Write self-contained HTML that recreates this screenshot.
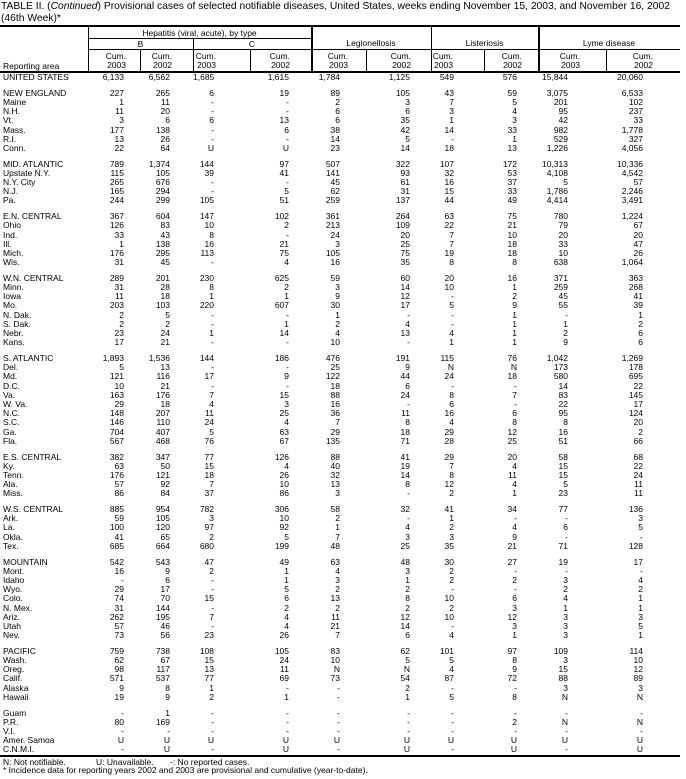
<!DOCTYPE html>
<html><head><meta charset="utf-8"><style>
*{margin:0;padding:0;box-sizing:border-box}
body{width:686px;height:779px;background:#fff;position:relative;overflow:hidden;font-family:"Liberation Sans",Arial,sans-serif;color:#000}
.t{position:absolute;white-space:nowrap;font-size:10.3px;line-height:12px;left:1px}
.h{position:absolute;font-size:8.5px;line-height:9px;white-space:nowrap}
.c{text-align:center}
.r{text-align:right}
.ln{position:absolute;background:#000}
table{position:absolute;left:0;top:73px;border-collapse:collapse;table-layout:fixed;width:680px;font-size:8.5px}
td{padding:0;height:9.2px;line-height:9.2px;text-align:right;white-space:nowrap;overflow:visible}
td:first-child{text-align:left;padding-left:3px}
tr.g td{height:6.5px;line-height:6.5px}
td:nth-child(2){padding-right:16px}td:nth-child(3){padding-right:23px}td:nth-child(4){padding-right:36px}td:nth-child(5){padding-right:22px}td:nth-child(6){padding-right:26px}td:nth-child(7){padding-right:21px}td:nth-child(8){padding-right:30px}td:nth-child(9){padding-right:21px}td:nth-child(10){padding-right:38px}td:nth-child(11){padding-right:37px}
</style></head><body>
<div class="t" style="top:1px">TABLE II. (<i>Continued</i>) Provisional cases of selected notifiable diseases, United States, weeks ending November 15, 2003, and November 16, 2002</div>
<div class="t" style="top:13px">(46th Week)*</div>
<div class="ln" style="left:0;top:25px;width:680px;height:2px"></div>
<div class="ln" style="left:0;top:71px;width:680px;height:2px"></div>
<div class="ln" style="left:88px;top:38px;width:223px;height:1px"></div>
<div class="ln" style="left:88px;top:49px;width:592px;height:1px"></div>
<div class="ln" style="left:88px;top:26px;width:1px;height:46px"></div>
<div class="ln" style="left:311px;top:26px;width:2px;height:46px"></div>
<div class="ln" style="left:431px;top:26px;width:1px;height:46px"></div>
<div class="ln" style="left:538px;top:26px;width:2px;height:46px"></div>
<div class="ln" style="left:193px;top:38px;width:1px;height:34px"></div>
<div class="ln" style="left:140px;top:49px;width:1px;height:23px"></div>
<div class="ln" style="left:250px;top:49px;width:1px;height:23px"></div>
<div class="ln" style="left:366px;top:49px;width:1px;height:23px"></div>
<div class="ln" style="left:484px;top:49px;width:1px;height:23px"></div>
<div class="ln" style="left:606px;top:49px;width:1px;height:23px"></div>
<div class="h c" style="left:88px;width:223px;top:29px">Hepatitis (viral, acute), by type</div>
<div class="h c" style="left:88px;width:105px;top:40px">B</div>
<div class="h c" style="left:193px;width:118px;top:40px">C</div>
<div class="h c" style="left:311px;width:120px;top:39px">Legionellosis</div>
<div class="h c" style="left:431px;width:107px;top:39px">Listeriosis</div>
<div class="h c" style="left:538px;width:142px;top:39px">Lyme disease</div>
<div class="h" style="left:3px;top:62px">Reporting area</div>
<div class="h r" style="left:88px;width:38px;top:52px">Cum.<br>2003</div>
<div class="h r" style="left:140px;width:32px;top:52px">Cum.<br>2002</div>
<div class="h r" style="left:193px;width:23px;top:52px">Cum.<br>2003</div>
<div class="h r" style="left:250px;width:40px;top:52px">Cum.<br>2002</div>
<div class="h r" style="left:311px;width:37px;top:52px">Cum.<br>2003</div>
<div class="h r" style="left:366px;width:45px;top:52px">Cum.<br>2002</div>
<div class="h r" style="left:431px;width:22px;top:52px">Cum.<br>2003</div>
<div class="h r" style="left:484px;width:38px;top:52px">Cum.<br>2002</div>
<div class="h r" style="left:538px;width:42px;top:52px">Cum.<br>2003</div>
<div class="h r" style="left:606px;width:47px;top:52px">Cum.<br>2002</div>
<table>
<colgroup><col style="width:88px"><col style="width:52px"><col style="width:53px"><col style="width:57px"><col style="width:61px"><col style="width:55px"><col style="width:65px"><col style="width:53px"><col style="width:54px"><col style="width:68px"><col style="width:74px"></colgroup>
<tr><td>UNITED STATES</td><td>6,133</td><td>6,562</td><td>1,685</td><td>1,615</td><td>1,784</td><td>1,125</td><td>549</td><td>576</td><td>15,844</td><td>20,060</td></tr>
<tr class="g"><td></td><td></td><td></td><td></td><td></td><td></td><td></td><td></td><td></td><td></td><td></td></tr>
<tr><td>NEW ENGLAND</td><td>227</td><td>265</td><td>6</td><td>19</td><td>89</td><td>105</td><td>43</td><td>59</td><td>3,075</td><td>6,533</td></tr>
<tr><td>Maine</td><td>1</td><td>11</td><td>-</td><td>-</td><td>2</td><td>3</td><td>7</td><td>5</td><td>201</td><td>102</td></tr>
<tr><td>N.H.</td><td>11</td><td>20</td><td>-</td><td>-</td><td>6</td><td>6</td><td>3</td><td>4</td><td>95</td><td>237</td></tr>
<tr><td>Vt.</td><td>3</td><td>6</td><td>6</td><td>13</td><td>6</td><td>35</td><td>1</td><td>3</td><td>42</td><td>33</td></tr>
<tr><td>Mass.</td><td>177</td><td>138</td><td>-</td><td>6</td><td>38</td><td>42</td><td>14</td><td>33</td><td>982</td><td>1,778</td></tr>
<tr><td>R.I.</td><td>13</td><td>26</td><td>-</td><td>-</td><td>14</td><td>5</td><td>-</td><td>1</td><td>529</td><td>327</td></tr>
<tr><td>Conn.</td><td>22</td><td>64</td><td>U</td><td>U</td><td>23</td><td>14</td><td>18</td><td>13</td><td>1,226</td><td>4,056</td></tr>
<tr class="g"><td></td><td></td><td></td><td></td><td></td><td></td><td></td><td></td><td></td><td></td><td></td></tr>
<tr><td>MID. ATLANTIC</td><td>789</td><td>1,374</td><td>144</td><td>97</td><td>507</td><td>322</td><td>107</td><td>172</td><td>10,313</td><td>10,336</td></tr>
<tr><td>Upstate N.Y.</td><td>115</td><td>105</td><td>39</td><td>41</td><td>141</td><td>93</td><td>32</td><td>53</td><td>4,108</td><td>4,542</td></tr>
<tr><td>N.Y. City</td><td>265</td><td>676</td><td>-</td><td>-</td><td>45</td><td>61</td><td>16</td><td>37</td><td>5</td><td>57</td></tr>
<tr><td>N.J.</td><td>165</td><td>294</td><td>-</td><td>5</td><td>62</td><td>31</td><td>15</td><td>33</td><td>1,786</td><td>2,246</td></tr>
<tr><td>Pa.</td><td>244</td><td>299</td><td>105</td><td>51</td><td>259</td><td>137</td><td>44</td><td>49</td><td>4,414</td><td>3,491</td></tr>
<tr class="g"><td></td><td></td><td></td><td></td><td></td><td></td><td></td><td></td><td></td><td></td><td></td></tr>
<tr><td>E.N. CENTRAL</td><td>367</td><td>604</td><td>147</td><td>102</td><td>361</td><td>264</td><td>63</td><td>75</td><td>780</td><td>1,224</td></tr>
<tr><td>Ohio</td><td>126</td><td>83</td><td>10</td><td>2</td><td>213</td><td>109</td><td>22</td><td>21</td><td>79</td><td>67</td></tr>
<tr><td>Ind.</td><td>33</td><td>43</td><td>8</td><td>-</td><td>24</td><td>20</td><td>7</td><td>10</td><td>20</td><td>20</td></tr>
<tr><td>Ill.</td><td>1</td><td>138</td><td>16</td><td>21</td><td>3</td><td>25</td><td>7</td><td>18</td><td>33</td><td>47</td></tr>
<tr><td>Mich.</td><td>176</td><td>295</td><td>113</td><td>75</td><td>105</td><td>75</td><td>19</td><td>18</td><td>10</td><td>26</td></tr>
<tr><td>Wis.</td><td>31</td><td>45</td><td>-</td><td>4</td><td>16</td><td>35</td><td>8</td><td>8</td><td>638</td><td>1,064</td></tr>
<tr class="g"><td></td><td></td><td></td><td></td><td></td><td></td><td></td><td></td><td></td><td></td><td></td></tr>
<tr><td>W.N. CENTRAL</td><td>289</td><td>201</td><td>230</td><td>625</td><td>59</td><td>60</td><td>20</td><td>16</td><td>371</td><td>363</td></tr>
<tr><td>Minn.</td><td>31</td><td>28</td><td>8</td><td>2</td><td>3</td><td>14</td><td>10</td><td>1</td><td>259</td><td>268</td></tr>
<tr><td>Iowa</td><td>11</td><td>18</td><td>1</td><td>1</td><td>9</td><td>12</td><td>-</td><td>2</td><td>45</td><td>41</td></tr>
<tr><td>Mo.</td><td>203</td><td>103</td><td>220</td><td>607</td><td>30</td><td>17</td><td>5</td><td>9</td><td>55</td><td>39</td></tr>
<tr><td>N. Dak.</td><td>2</td><td>5</td><td>-</td><td>-</td><td>1</td><td>-</td><td>-</td><td>1</td><td>-</td><td>1</td></tr>
<tr><td>S. Dak.</td><td>2</td><td>2</td><td>-</td><td>1</td><td>2</td><td>4</td><td>-</td><td>1</td><td>1</td><td>2</td></tr>
<tr><td>Nebr.</td><td>23</td><td>24</td><td>1</td><td>14</td><td>4</td><td>13</td><td>4</td><td>1</td><td>2</td><td>6</td></tr>
<tr><td>Kans.</td><td>17</td><td>21</td><td>-</td><td>-</td><td>10</td><td>-</td><td>1</td><td>1</td><td>9</td><td>6</td></tr>
<tr class="g"><td></td><td></td><td></td><td></td><td></td><td></td><td></td><td></td><td></td><td></td><td></td></tr>
<tr><td>S. ATLANTIC</td><td>1,893</td><td>1,536</td><td>144</td><td>186</td><td>476</td><td>191</td><td>115</td><td>76</td><td>1,042</td><td>1,269</td></tr>
<tr><td>Del.</td><td>5</td><td>13</td><td>-</td><td>-</td><td>25</td><td>9</td><td>N</td><td>N</td><td>173</td><td>178</td></tr>
<tr><td>Md.</td><td>121</td><td>116</td><td>17</td><td>9</td><td>122</td><td>44</td><td>24</td><td>18</td><td>580</td><td>695</td></tr>
<tr><td>D.C.</td><td>10</td><td>21</td><td>-</td><td>-</td><td>18</td><td>6</td><td>-</td><td>-</td><td>14</td><td>22</td></tr>
<tr><td>Va.</td><td>163</td><td>176</td><td>7</td><td>15</td><td>88</td><td>24</td><td>8</td><td>7</td><td>83</td><td>145</td></tr>
<tr><td>W. Va.</td><td>29</td><td>18</td><td>4</td><td>3</td><td>16</td><td>-</td><td>6</td><td>-</td><td>22</td><td>17</td></tr>
<tr><td>N.C.</td><td>148</td><td>207</td><td>11</td><td>25</td><td>36</td><td>11</td><td>16</td><td>6</td><td>95</td><td>124</td></tr>
<tr><td>S.C.</td><td>146</td><td>110</td><td>24</td><td>4</td><td>7</td><td>8</td><td>4</td><td>8</td><td>8</td><td>20</td></tr>
<tr><td>Ga.</td><td>704</td><td>407</td><td>5</td><td>63</td><td>29</td><td>18</td><td>29</td><td>12</td><td>16</td><td>2</td></tr>
<tr><td>Fla.</td><td>567</td><td>468</td><td>76</td><td>67</td><td>135</td><td>71</td><td>28</td><td>25</td><td>51</td><td>66</td></tr>
<tr class="g"><td></td><td></td><td></td><td></td><td></td><td></td><td></td><td></td><td></td><td></td><td></td></tr>
<tr><td>E.S. CENTRAL</td><td>382</td><td>347</td><td>77</td><td>126</td><td>88</td><td>41</td><td>29</td><td>20</td><td>58</td><td>68</td></tr>
<tr><td>Ky.</td><td>63</td><td>50</td><td>15</td><td>4</td><td>40</td><td>19</td><td>7</td><td>4</td><td>15</td><td>22</td></tr>
<tr><td>Tenn.</td><td>176</td><td>121</td><td>18</td><td>26</td><td>32</td><td>14</td><td>8</td><td>11</td><td>15</td><td>24</td></tr>
<tr><td>Ala.</td><td>57</td><td>92</td><td>7</td><td>10</td><td>13</td><td>8</td><td>12</td><td>4</td><td>5</td><td>11</td></tr>
<tr><td>Miss.</td><td>86</td><td>84</td><td>37</td><td>86</td><td>3</td><td>-</td><td>2</td><td>1</td><td>23</td><td>11</td></tr>
<tr class="g"><td></td><td></td><td></td><td></td><td></td><td></td><td></td><td></td><td></td><td></td><td></td></tr>
<tr><td>W.S. CENTRAL</td><td>885</td><td>954</td><td>782</td><td>306</td><td>58</td><td>32</td><td>41</td><td>34</td><td>77</td><td>136</td></tr>
<tr><td>Ark.</td><td>59</td><td>105</td><td>3</td><td>10</td><td>2</td><td>-</td><td>1</td><td>-</td><td>-</td><td>3</td></tr>
<tr><td>La.</td><td>100</td><td>120</td><td>97</td><td>92</td><td>1</td><td>4</td><td>2</td><td>4</td><td>6</td><td>5</td></tr>
<tr><td>Okla.</td><td>41</td><td>65</td><td>2</td><td>5</td><td>7</td><td>3</td><td>3</td><td>9</td><td>-</td><td>-</td></tr>
<tr><td>Tex.</td><td>685</td><td>664</td><td>680</td><td>199</td><td>48</td><td>25</td><td>35</td><td>21</td><td>71</td><td>128</td></tr>
<tr class="g"><td></td><td></td><td></td><td></td><td></td><td></td><td></td><td></td><td></td><td></td><td></td></tr>
<tr><td>MOUNTAIN</td><td>542</td><td>543</td><td>47</td><td>49</td><td>63</td><td>48</td><td>30</td><td>27</td><td>19</td><td>17</td></tr>
<tr><td>Mont.</td><td>16</td><td>9</td><td>2</td><td>1</td><td>4</td><td>3</td><td>2</td><td>-</td><td>-</td><td>-</td></tr>
<tr><td>Idaho</td><td>-</td><td>6</td><td>-</td><td>1</td><td>3</td><td>1</td><td>2</td><td>2</td><td>3</td><td>4</td></tr>
<tr><td>Wyo.</td><td>29</td><td>17</td><td>-</td><td>5</td><td>2</td><td>2</td><td>-</td><td>-</td><td>2</td><td>2</td></tr>
<tr><td>Colo.</td><td>74</td><td>70</td><td>15</td><td>6</td><td>13</td><td>8</td><td>10</td><td>6</td><td>4</td><td>1</td></tr>
<tr><td>N. Mex.</td><td>31</td><td>144</td><td>-</td><td>2</td><td>2</td><td>2</td><td>2</td><td>3</td><td>1</td><td>1</td></tr>
<tr><td>Ariz.</td><td>262</td><td>195</td><td>7</td><td>4</td><td>11</td><td>12</td><td>10</td><td>12</td><td>3</td><td>3</td></tr>
<tr><td>Utah</td><td>57</td><td>46</td><td>-</td><td>4</td><td>21</td><td>14</td><td>-</td><td>3</td><td>3</td><td>5</td></tr>
<tr><td>Nev.</td><td>73</td><td>56</td><td>23</td><td>26</td><td>7</td><td>6</td><td>4</td><td>1</td><td>3</td><td>1</td></tr>
<tr class="g"><td></td><td></td><td></td><td></td><td></td><td></td><td></td><td></td><td></td><td></td><td></td></tr>
<tr><td>PACIFIC</td><td>759</td><td>738</td><td>108</td><td>105</td><td>83</td><td>62</td><td>101</td><td>97</td><td>109</td><td>114</td></tr>
<tr><td>Wash.</td><td>62</td><td>67</td><td>15</td><td>24</td><td>10</td><td>5</td><td>5</td><td>8</td><td>3</td><td>10</td></tr>
<tr><td>Oreg.</td><td>98</td><td>117</td><td>13</td><td>11</td><td>N</td><td>N</td><td>4</td><td>9</td><td>15</td><td>12</td></tr>
<tr><td>Calif.</td><td>571</td><td>537</td><td>77</td><td>69</td><td>73</td><td>54</td><td>87</td><td>72</td><td>88</td><td>89</td></tr>
<tr><td>Alaska</td><td>9</td><td>8</td><td>1</td><td>-</td><td>-</td><td>2</td><td>-</td><td>-</td><td>3</td><td>3</td></tr>
<tr><td>Hawaii</td><td>19</td><td>9</td><td>2</td><td>1</td><td>-</td><td>1</td><td>5</td><td>8</td><td>N</td><td>N</td></tr>
<tr class="g"><td></td><td></td><td></td><td></td><td></td><td></td><td></td><td></td><td></td><td></td><td></td></tr>
<tr><td>Guam</td><td>-</td><td>1</td><td>-</td><td>-</td><td>-</td><td>-</td><td>-</td><td>-</td><td>-</td><td>-</td></tr>
<tr><td>P.R.</td><td>80</td><td>169</td><td>-</td><td>-</td><td>-</td><td>-</td><td>-</td><td>2</td><td>N</td><td>N</td></tr>
<tr><td>V.I.</td><td>-</td><td>-</td><td>-</td><td>-</td><td>-</td><td>-</td><td>-</td><td>-</td><td>-</td><td>-</td></tr>
<tr><td>Amer. Samoa</td><td>U</td><td>U</td><td>U</td><td>U</td><td>U</td><td>U</td><td>U</td><td>U</td><td>U</td><td>U</td></tr>
<tr><td>C.N.M.I.</td><td>-</td><td>U</td><td>-</td><td>U</td><td>-</td><td>U</td><td>-</td><td>U</td><td>-</td><td>U</td></tr>
</table>
<div class="ln" style="left:0;top:755px;width:680px;height:2px"></div>
<div class="h" style="left:3px;top:758px">N: Not notifiable.</div>
<div class="h" style="left:96px;top:758px">U: Unavailable.</div>
<div class="h" style="left:170px;top:758px">-: No reported cases.</div>
<div class="h" style="left:3px;top:766px">* Incidence data for reporting years 2002 and 2003 are provisional and cumulative (year-to-date).</div>
</body></html>
